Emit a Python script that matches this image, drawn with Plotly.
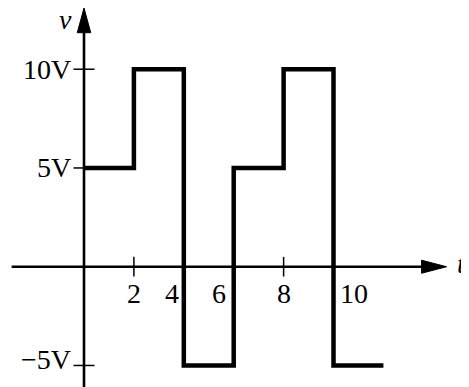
import plotly.graph_objects as go

# waveform v(t), piecewise constant
t_edges = [0, 2, 4, 6, 8, 10, 12]
v_levels = [5, 10, -5, 5, 10, -5, -5]

t_ticks = [2, 4, 6, 8, 10]
t_tick_labels = ['2', '4', '6', '8', '10']
v_ticks = [10, 5, -5]
v_tick_labels = ['10V', '5V', '\u22125V']

FONT = 'Liberation Serif'
# page body keeps its default 8px margin, so the figure is 8px smaller
X_RANGE = [-3.046, 15.43]
Y_RANGE = [-6.09, 13.1]

fig = go.Figure()

fig.add_trace(go.Scatter(
    x=t_edges, y=v_levels,
    mode='lines',
    line=dict(color='black', width=4.5, shape='hv'),
    hoverinfo='skip',
))

shapes = []
axis_w = 2.6
# horizontal t axis and vertical v axis
x_start, x_tip = -2.9, 14.53
y_bottom, y_tip = -6.2, 13.1
shapes.append(dict(type='line', x0=x_start, x1=x_tip - 0.6, y0=0, y1=0,
                   line=dict(color='black', width=axis_w)))
shapes.append(dict(type='line', x0=0, x1=0, y0=y_bottom, y1=y_tip - 0.9,
                   line=dict(color='black', width=axis_w)))
# arrow heads (25 px long, ~13 px wide)
ah_len_x, ah_half_y = 1.0, 0.33
shapes.append(dict(type='path', fillcolor='black', line=dict(color='black', width=1),
                   path=f'M {x_tip - ah_len_x},{-ah_half_y} L {x_tip},0 L {x_tip - ah_len_x},{ah_half_y} Z'))
ah_len_y, ah_half_x = 1.25, 0.27
shapes.append(dict(type='path', fillcolor='black', line=dict(color='black', width=1),
                   path=f'M {-ah_half_x},{y_tip - ah_len_y} L 0,{y_tip} L {ah_half_x},{y_tip - ah_len_y} Z'))

# tick marks crossing the axes
for t in t_ticks:
    shapes.append(dict(type='line', x0=t, x1=t, y0=-0.5, y1=0.5,
                       line=dict(color='black', width=1.5)))
for v in v_ticks:
    shapes.append(dict(type='line', x0=-0.42, x1=0.42, y0=v, y1=v,
                       line=dict(color='black', width=1.5)))

annotations = []
label_shift = {2: 0, 4: -12, 6: -15, 8: 0, 10: 20}
for t, lab in zip(t_ticks, t_tick_labels):
    annotations.append(dict(x=t, y=0, text=lab, showarrow=False,
                            xshift=label_shift[t], yshift=-27,
                            font=dict(family=FONT, size=28, color='black')))
v_yshift = {10: 0, 5: 0, -5: 6}
for v, lab in zip(v_ticks, v_tick_labels):
    annotations.append(dict(x=0, y=v, text=lab, showarrow=False,
                            xanchor='right', xshift=-11, yshift=v_yshift[v],
                            font=dict(family=FONT, size=28, color='black')))
annotations.append(dict(x=0, y=y_tip, text='<i>v</i>', showarrow=False,
                        xshift=-19, yshift=-11,
                        font=dict(family=FONT, size=28, color='black')))
# axis name at the right edge of the page
annotations.append(dict(x=1, y=0, xref='paper', yref='y', text='<i>t</i>',
                        showarrow=False, xanchor='right', xshift=-1, yshift=3,
                        font=dict(family=FONT, size=28, color='black')))

fig.update_layout(
    width=461, height=379,
    margin=dict(l=0, r=0, t=0, b=0),
    paper_bgcolor='white', plot_bgcolor='white',
    showlegend=False,
    shapes=shapes,
    annotations=annotations,
    xaxis=dict(range=X_RANGE, visible=False, fixedrange=True),
    yaxis=dict(range=Y_RANGE, visible=False, fixedrange=True),
)

fig.write_html("out.html")
